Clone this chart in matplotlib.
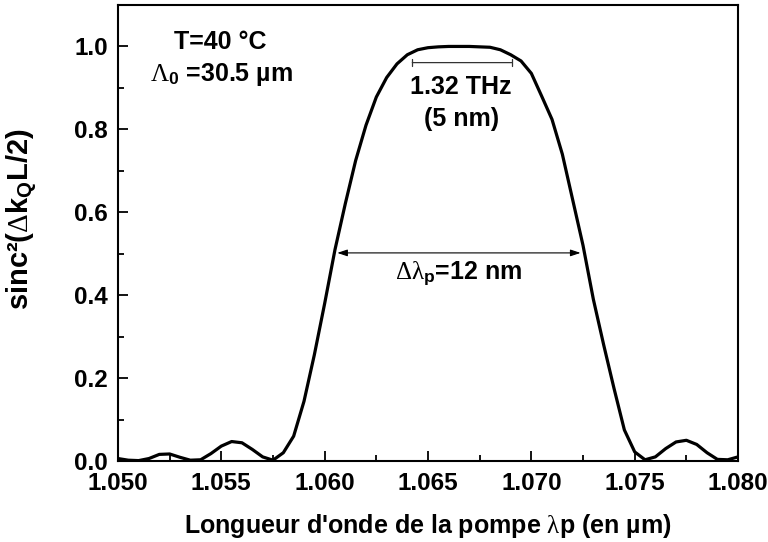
import numpy as np
import matplotlib
matplotlib.use("Agg")
import matplotlib.pyplot as plt
from matplotlib.ticker import MultipleLocator, FormatStrFormatter

# pump wavelength (um) and phase-matching efficiency sinc^2(dk L/2)
wavelength = [1.0500, 1.0505, 1.0510, 1.0515, 1.0520, 1.0525, 1.0530, 1.0535,
              1.0540, 1.0545, 1.0550, 1.0555, 1.0560, 1.0565, 1.0570, 1.0575,
              1.0580, 1.0585, 1.0590, 1.0595, 1.0600, 1.0605, 1.0610, 1.0615,
              1.0620, 1.0625, 1.0630, 1.0635, 1.0640, 1.0645, 1.0650, 1.0655,
              1.0660, 1.0665, 1.0670, 1.0675, 1.0680, 1.0685, 1.0690, 1.0695,
              1.0700, 1.0705, 1.0710, 1.0715, 1.0720, 1.0725, 1.0730, 1.0735,
              1.0740, 1.0745, 1.0750, 1.0755, 1.0760, 1.0765, 1.0770, 1.0775,
              1.0780, 1.0785, 1.0790, 1.0795, 1.0800]
efficiency = [0.006, 0.002, 0.001, 0.006, 0.016, 0.017, 0.009, 0.002,
              0.003, 0.018, 0.036, 0.047, 0.044, 0.028, 0.010, 0.002,
              0.020, 0.060, 0.144, 0.256, 0.380, 0.510, 0.621, 0.725,
              0.810, 0.878, 0.925, 0.958, 0.980, 0.992, 0.997, 0.999,
              1.000, 1.000, 1.000, 0.999, 0.998, 0.992, 0.980, 0.965,
              0.935, 0.880, 0.824, 0.740, 0.630, 0.520, 0.390, 0.280,
              0.175, 0.075, 0.022, 0.003, 0.010, 0.030, 0.046, 0.050,
              0.040, 0.020, 0.004, 0.003, 0.010]

fwhm_bounds = [1.06061, 1.07238]      # full width at half maximum, 12 nm
plateau_bounds = [1.06424, 1.06905]   # flat top, 1.32 THz

plt.rcParams['font.family'] = ['Liberation Sans', 'DejaVu Sans']
plt.rcParams['font.weight'] = 'bold'
plt.rcParams['mathtext.fontset'] = 'custom'
plt.rcParams['mathtext.rm'] = 'Liberation Serif:normal'
plt.rcParams['mathtext.it'] = 'Liberation Serif:italic:normal'
plt.rcParams['mathtext.bf'] = 'Liberation Sans:bold'

fig = plt.figure(figsize=(7.68, 5.42), dpi=100)
ax = fig.add_axes([0.1536, 0.1494, 0.8074, 0.8414])

ax.plot(wavelength, efficiency, color='black', lw=2.3)

ax.set_xlim(1.050, 1.080)
ax.set_ylim(0.0, 1.1)
ax.xaxis.set_major_locator(MultipleLocator(0.005))
ax.xaxis.set_minor_locator(MultipleLocator(0.0025))
ax.yaxis.set_major_locator(MultipleLocator(0.2))
ax.yaxis.set_minor_locator(MultipleLocator(0.1))
ax.xaxis.set_major_formatter(FormatStrFormatter('%.3f'))
ax.yaxis.set_major_formatter(FormatStrFormatter('%.1f'))
ax.tick_params(which='both', direction='in', width=1.3, labelsize=17.5)
ax.tick_params(which='major', length=7)
ax.tick_params(which='minor', length=4)
ax.tick_params(axis='x', which='major', pad=8)
ax.tick_params(axis='y', which='major', pad=7)
for sp in ax.spines.values():
    sp.set_linewidth(1.5)

ax.set_xlabel(r"Longueur d'onde de la pompe $\mathrm{\lambda}$p (en µm)",
              fontsize=18, fontweight='bold', labelpad=12)
ax.set_ylabel(r"sinc²($\mathrm{\Delta}\mathbf{k_Q}$L/2)",
              fontsize=21, fontweight='bold')
ax.yaxis.set_label_coords(-0.128, 0.53)

# conditions
ax.text(1.05493, 0.993, "T=40 °C", fontsize=18, fontweight='bold', ha='center', va='baseline')
ax.text(1.05155, 0.916, r"$\mathrm{\Lambda}_\mathbf{0}$ =30.5 µm", fontsize=18,
        fontweight='bold', ha='left', va='baseline')

# flat-top width
ax.annotate('', xy=(plateau_bounds[0], 0.961), xytext=(plateau_bounds[1], 0.961),
            arrowprops=dict(arrowstyle='|-|, widthA=0.25, widthB=0.25', color='#333333', lw=0.9,
                            shrinkA=0, shrinkB=0))
ax.text(1.0666, 0.886, "1.32 THz", fontsize=18, fontweight='bold', ha='center', va='baseline')
ax.text(1.0666, 0.809, "(5 nm)", fontsize=18, fontweight='bold', ha='center', va='baseline')

# FWHM
ax.annotate('', xy=(fwhm_bounds[0], 0.502), xytext=(fwhm_bounds[1], 0.502),
            arrowprops=dict(arrowstyle='<|-|>, head_length=0.6, head_width=0.2',
                            color='black', lw=0.8, shrinkA=0, shrinkB=0))
ax.text(1.0665, 0.437, r"$\mathrm{\Delta\lambda}_\mathbf{p}$=12 nm", fontsize=18,
        fontweight='bold', ha='center', va='baseline')

fig.savefig('out.png', dpi=100)
